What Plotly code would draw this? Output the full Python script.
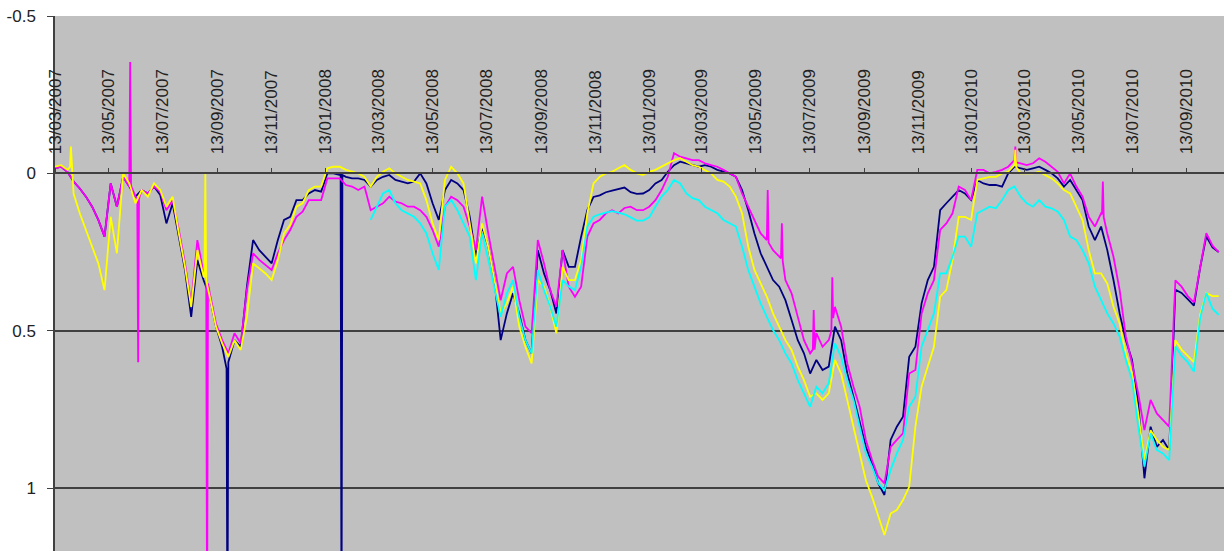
import pandas as pd
import plotly.graph_objects as go

# ---------------- data (weekly readings from 2007-03-13) ----------------
start_date = "2007-03-13"
cyan_start = "2008-03-04"

navy = [
    -0.016, -0.021, -0.005, 0.026, 0.048, 0.074, 0.106, 0.148, 0.201, 0.032,
    0.106, 0.011, 0.042, 0.074, 0.053, 0.064, 0.042, 0.069, 0.159, 0.095,
    0.201, 0.307, 0.456, 0.275, 0.339, 0.392, 0.487, 0.551, 0.614, 0.53,
    0.551, 0.36, 0.212, 0.244, 0.265, 0.286, 0.212, 0.148, 0.138, 0.085,
    0.085, 0.064, 0.053, 0.058, 0.0, 0.0, 0.005, 0.011, 0.016, 0.016,
    0.021, 0.042, 0.021, 0.011, 0.005, 0.021, 0.026, 0.032, 0.026, 0.0,
    0.032, 0.095, 0.148, 0.053, 0.021, 0.032, 0.053, 0.138, 0.265, 0.169,
    0.233, 0.339, 0.53, 0.445, 0.381, 0.445, 0.53, 0.572, 0.244, 0.318,
    0.371, 0.445, 0.244, 0.297, 0.297, 0.201, 0.117, 0.075, 0.07, 0.06,
    0.055, 0.05, 0.045, 0.06, 0.065, 0.064, 0.053, 0.032, 0.021, -0.005,
    -0.026, -0.037, -0.032, -0.026, -0.021, -0.026, -0.021, -0.011, -0.005, 0.0,
    0.011, 0.053, 0.117, 0.191, 0.254, 0.297, 0.339, 0.36, 0.403, 0.466,
    0.53, 0.572, 0.636, 0.593, 0.625, 0.614, 0.487, 0.53, 0.636, 0.71,
    0.794, 0.869, 0.922, 0.985, 1.022, 0.847, 0.805, 0.773, 0.583, 0.551,
    0.413, 0.339, 0.297, 0.117, 0.095, 0.074, 0.053, 0.064, 0.085, 0.021,
    0.032, 0.037, 0.037, 0.042, 0.0, -0.021, -0.016, -0.011, -0.016, -0.021,
    -0.011, 0.0, 0.016, 0.042, 0.021, 0.053, 0.085, 0.169, 0.212, 0.169,
    0.244, 0.339, 0.445, 0.53, 0.593, 0.731, 0.969, 0.805, 0.869, 0.847,
    0.879, 0.37, 0.38, 0.40, 0.42, 0.30, 0.20, 0.235, 0.25,
]

magenta = [
    -0.016, -0.021, -0.005, 0.026, 0.048, 0.074, 0.106, 0.148, 0.201, 0.032,
    0.106, 0.011, 0.042, 0.074, 0.053, 0.064, 0.042, 0.058, 0.117, 0.085,
    0.18, 0.286, 0.413, 0.212, 0.318, 0.381, 0.477, 0.53, 0.572, 0.508,
    0.54, 0.371, 0.254, 0.275, 0.291, 0.307, 0.254, 0.212, 0.18, 0.138,
    0.122, 0.085, 0.085, 0.085, 0.016, 0.016, 0.016, 0.037, 0.042, 0.053,
    0.042, 0.117, 0.106, 0.095, 0.074, 0.09, 0.095, 0.106, 0.106, 0.117,
    0.138, 0.18, 0.233, 0.106, 0.074, 0.085, 0.106, 0.169, 0.244, 0.074,
    0.191, 0.297, 0.403, 0.318, 0.297, 0.403, 0.487, 0.508, 0.212, 0.286,
    0.371, 0.424, 0.244, 0.36, 0.392, 0.36, 0.201, 0.159, 0.148, 0.127,
    0.117, 0.127, 0.11, 0.106, 0.117, 0.117, 0.106, 0.085, 0.053, 0.011,
    -0.064, -0.053, -0.048, -0.042, -0.042, -0.032, -0.026, -0.021, -0.011, 0.0,
    0.011, 0.064, 0.106, 0.148, 0.191, 0.212, 0.244, 0.265, 0.339, 0.381,
    0.456, 0.53, 0.572, 0.508, 0.551, 0.53, 0.424, 0.487, 0.604, 0.678,
    0.742, 0.847, 0.911, 0.964, 0.985, 0.869, 0.847, 0.826, 0.636, 0.625,
    0.445, 0.381, 0.339, 0.18, 0.159, 0.127, 0.042, 0.053, 0.085, -0.011,
    -0.011, 0.0, -0.005, -0.011, -0.021, -0.042, -0.032, -0.026, -0.032, -0.048,
    -0.037, -0.021, -0.005, 0.032, 0.0, 0.042, 0.074, 0.138, 0.169, 0.127,
    0.191, 0.265, 0.371, 0.519, 0.604, 0.699, 0.816, 0.72, 0.763, 0.784,
    0.805, 0.34, 0.36, 0.39, 0.41, 0.30, 0.19, 0.23, 0.25,
]

yellow = [
    -0.021, -0.026, -0.011, 0.064, 0.127, 0.18, 0.233, 0.286, 0.371, 0.138,
    0.254, 0.0, 0.032, 0.095, 0.053, 0.074, 0.032, 0.053, 0.106, 0.074,
    0.191, 0.297, 0.424, 0.244, 0.328, 0.392, 0.487, 0.54, 0.583, 0.53,
    0.561, 0.456, 0.286, 0.302, 0.318, 0.339, 0.275, 0.191, 0.164, 0.106,
    0.095, 0.053, 0.042, 0.042, -0.016, -0.021, -0.021, -0.011, -0.005, 0.0,
    0.011, 0.042, 0.011, -0.005, -0.016, 0.0, 0.011, 0.021, 0.026, 0.032,
    0.085, 0.159, 0.212, 0.021, -0.021, 0.0, 0.032, 0.159, 0.286, 0.159,
    0.233, 0.339, 0.445, 0.413, 0.36, 0.487, 0.551, 0.604, 0.339, 0.36,
    0.424, 0.508, 0.297, 0.339, 0.339, 0.275, 0.127, 0.032, 0.011, 0.0,
    -0.005, -0.016, -0.026, -0.011, 0.0, 0.005, -0.005, -0.011, -0.021, -0.032,
    -0.042, -0.048, -0.037, -0.026, -0.021, -0.011, 0.0, 0.021, 0.026, 0.042,
    0.074, 0.127, 0.233, 0.307, 0.35, 0.392, 0.445, 0.487, 0.53, 0.561,
    0.614, 0.657, 0.71, 0.699, 0.72, 0.699, 0.593, 0.636, 0.72, 0.805,
    0.89, 0.975, 1.028, 1.091, 1.149, 1.081, 1.07, 1.038, 0.996, 0.805,
    0.678, 0.614, 0.551, 0.392, 0.371, 0.275, 0.138, 0.138, 0.148, 0.021,
    0.016, 0.011, 0.011, 0.0, -0.005, -0.026, 0.0, 0.0, 0.0, -0.005,
    0.005, 0.016, 0.032, 0.053, 0.064, 0.106, 0.148, 0.244, 0.318, 0.318,
    0.35, 0.424, 0.477, 0.572, 0.636, 0.763, 0.911, 0.816, 0.847, 0.869,
    0.879, 0.53, 0.56, 0.58, 0.60, 0.45, 0.38, 0.39, 0.39,
]

cyan = [
    0.148, 0.106, 0.064, 0.053, 0.095, 0.117, 0.127, 0.138, 0.159,
    0.191, 0.254, 0.307, 0.106, 0.085, 0.117, 0.159, 0.201, 0.339, 0.191,
    0.275, 0.371, 0.456, 0.381, 0.339, 0.456, 0.53, 0.572, 0.307, 0.371,
    0.424, 0.487, 0.339, 0.36, 0.371, 0.297, 0.169, 0.138, 0.13, 0.125,
    0.12, 0.125, 0.13, 0.14, 0.15, 0.15, 0.14, 0.106, 0.074, 0.053,
    0.021, 0.032, 0.064, 0.079, 0.085, 0.106, 0.117, 0.127, 0.148, 0.159,
    0.169, 0.233, 0.307, 0.36, 0.413, 0.456, 0.498, 0.53, 0.572, 0.604,
    0.657, 0.699, 0.742, 0.678, 0.699, 0.667, 0.54, 0.583, 0.657, 0.72,
    0.805, 0.89, 0.932, 0.985, 1.006, 0.943, 0.89, 0.847, 0.742, 0.71,
    0.551, 0.498, 0.445, 0.318, 0.318, 0.265, 0.201, 0.201, 0.233, 0.127,
    0.117, 0.106, 0.111, 0.085, 0.053, 0.042, 0.074, 0.095, 0.106, 0.085,
    0.106, 0.111, 0.122, 0.148, 0.201, 0.212, 0.244, 0.286, 0.36, 0.403,
    0.445, 0.477, 0.519, 0.593, 0.657, 0.805, 0.932, 0.826, 0.879, 0.89,
    0.911, 0.55, 0.58, 0.60, 0.63, 0.46, 0.38, 0.43, 0.45,
]

# isolated daily outliers (with the day before / after)
navy_extra_dates = ["2007-09-23", "2007-09-24", "2007-09-25",
                    "2008-01-30", "2008-01-31", "2008-02-01"]
navy_extra_vals = [0.62, 1.5, 0.6, 0.0, 1.5, 0.005]

magenta_extra_dates = ["2007-06-05", "2007-06-06", "2007-06-07",
                       "2007-06-14", "2007-06-15", "2007-06-16",
                       "2007-08-31", "2007-09-01", "2007-09-02",
                       "2009-05-26", "2009-05-27", "2009-05-28",
                       "2009-06-11", "2009-06-12", "2009-06-13",
                       "2009-07-17", "2009-07-18", "2009-07-19",
                       "2009-08-07", "2009-08-08", "2009-08-09",
                       "2010-03-03", "2010-03-04",
                       "2010-06-09", "2010-06-10", "2010-06-11"]
magenta_extra_vals = [0.03, -0.354, 0.04,
                      0.08, 0.6, 0.08,
                      0.33, 1.5, 0.35,
                      0.21, 0.053, 0.22,
                      0.27, 0.159, 0.28,
                      0.56, 0.434, 0.56,
                      0.5, 0.33, 0.46,
                      -0.085, -0.035,
                      0.13, 0.026, 0.14]

yellow_extra_dates = ["2007-03-30", "2007-03-31", "2007-04-01",
                      "2007-08-29", "2007-08-30", "2007-08-31",
                      "2010-03-03", "2010-03-04"]
yellow_extra_vals = [-0.02, -0.085, -0.02,
                     0.33, 0.0, 0.34,
                     -0.075, -0.02]

tick_labels = ["13/03/2007", "13/05/2007", "13/07/2007", "13/09/2007", "13/11/2007",
               "13/01/2008", "13/03/2008", "13/05/2008", "13/07/2008", "13/09/2008",
               "13/11/2008", "13/01/2009", "13/03/2009", "13/05/2009", "13/07/2009",
               "13/09/2009", "13/11/2009", "13/01/2010", "13/03/2010", "13/05/2010",
               "13/07/2010", "13/09/2010"]
y_ticks = [-0.5, 0, 0.5, 1]
y_tick_labels = ["-0.5", "0", "0.5", "1"]
x_range = ["2007-03-13", "2010-10-25"]
y_range = [1.2, -0.5]


def build(first, vals, extra_dates=(), extra_vals=()):
    d = list(pd.date_range(first, periods=len(vals), freq="7D"))
    d += list(pd.to_datetime(list(extra_dates)))
    v = list(vals) + list(extra_vals)
    s = pd.Series(v, index=d).sort_index(kind="stable")
    return s.index, s.values


series = [
    ("navy", "#000080", build(start_date, navy, navy_extra_dates, navy_extra_vals)),
    ("magenta", "#FF00FF", build(start_date, magenta, magenta_extra_dates, magenta_extra_vals)),
    ("yellow", "#FFFF00", build(start_date, yellow, yellow_extra_dates, yellow_extra_vals)),
    ("cyan", "#00FFFF", build(cyan_start, cyan)),
]

fig = go.Figure()
for name, color, (xs, ys) in series:
    fig.add_trace(go.Scatter(x=xs, y=ys, mode="lines", name=name,
                             line=dict(color=color, width=1.8),
                             showlegend=False, hoverinfo="skip"))

font = "Liberation Sans, Arial, sans-serif"
axis_col = "#404040"
tick_dates = pd.to_datetime(tick_labels, format="%d/%m/%Y")

fig.update_layout(
    template="none",
    width=1224, height=551,
    margin=dict(l=55, r=0, t=16, b=0, pad=0),
    paper_bgcolor="white",
    plot_bgcolor="#C0C0C0",
    showlegend=False,
    xaxis=dict(
        type="date", range=x_range,
        tickmode="array", tickvals=tick_dates, ticktext=tick_labels,
        tickangle=-90, side="top", anchor="free",
        position=(y_range[0] - 0) / (y_range[0] - y_range[1]),
        ticks="outside", ticklen=5, tickwidth=1, tickcolor=axis_col,
        showline=True, linecolor=axis_col, linewidth=1.5,
        showgrid=False, zeroline=False, automargin=False,
        ticklabelstandoff=10,
        tickfont=dict(family=font, size=17, color="#222222"),
    ),
    yaxis=dict(
        range=y_range,
        tickmode="array", tickvals=y_ticks, ticktext=y_tick_labels,
        ticks="outside", ticklen=6, tickwidth=1, tickcolor=axis_col,
        showline=True, linecolor=axis_col, linewidth=1.5,
        showgrid=True, gridcolor=axis_col, gridwidth=1.5,
        zeroline=False, automargin=False,
        ticklabelstandoff=8,
        tickfont=dict(family=font, size=17, color="#222222"),
    ),
)

fig.write_html("out.html", config={"displayModeBar": False},
               post_script="document.body.style.margin='0px';")
